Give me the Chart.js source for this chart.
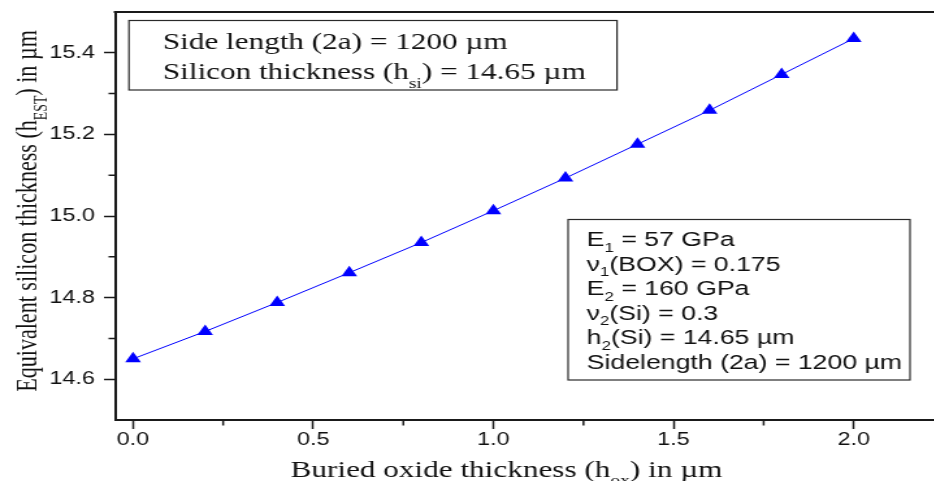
<!DOCTYPE html>
<html>
<head>
<meta charset="utf-8">
<script src="https://cdn.jsdelivr.net/npm/chart.js@4.4.1/dist/chart.umd.min.js"></script>
<style>
  html, body { margin: 0; padding: 0; background: #fff; overflow: hidden; width: 934px; height: 481px; }
  /* the figure is laid out narrow and stretched sideways */
  #wrap { width: 726px; height: 481px; transform: scale(1.3, 1); transform-origin: 0 0; }
</style>
</head>
<body>
<div id="wrap"><canvas id="chart" width="726" height="481"></canvas></div>
<script>
// buried oxide thickness (um) and the resulting equivalent silicon thickness (um)
const oxideThickness = [0, 0.2, 0.4, 0.6, 0.8, 1.0, 1.2, 1.4, 1.6, 1.8, 2.0];
const equivThickness = [14.65, 14.717, 14.788, 14.861, 14.935, 15.013, 15.093, 15.176, 15.259, 15.347, 15.435];

const xMajorTicks = [0, 0.5, 1.0, 1.5, 2.0];
const xMinorTicks = [0.25, 0.75, 1.25, 1.75];
const yMajorTicks = [14.6, 14.8, 15.0, 15.2, 15.4];
const yMinorTicks = [14.7, 14.9, 15.1, 15.3];

const axisColor = '#1a1a1a';
const textColor = '#111';
const serif = '"Liberation Serif", "Times New Roman", serif';
const sans = '"Liberation Sans", Arial, sans-serif';

// draw a line of text made of runs, some of them subscripted
function drawRuns(ctx, runs, x, y, size, family, align, subDrop) {
    const fontFor = r => `${r.sub ? Math.round(size * 0.62) : size}px ${family}`;
    const widths = runs.map(r => { ctx.font = fontFor(r); return ctx.measureText(r.t).width; });
    const total = widths.reduce((a, b) => a + b, 0);
    let cx = align === 'center' ? x - total / 2 : x;
    ctx.textAlign = 'left';
    ctx.textBaseline = 'alphabetic';
    runs.forEach((r, i) => {
        ctx.font = fontFor(r);
        ctx.fillText(r.t, cx, r.sub ? y + size * subDrop : y);
        cx += widths[i];
    });
}

// keep the plot area where the axes put it, without label overhang padding
function fixPadding(scale) {
    scale.paddingLeft = 0;
    scale.paddingRight = 0;
    scale.paddingTop = 0;
    scale.paddingBottom = 0;
}

// minor ticks, the top frame line, axis titles and the two note boxes
const decorations = {
    id: 'decorations',
    afterDraw(chart) {
        const { ctx, chartArea, scales: { x, y } } = chart;
        ctx.save();

        ctx.strokeStyle = axisColor;
        ctx.lineWidth = 1.5;
        ctx.beginPath();
        xMinorTicks.forEach(v => {
            const px = x.getPixelForValue(v);
            ctx.moveTo(px, chartArea.bottom);
            ctx.lineTo(px, chartArea.bottom + 5.5);
        });
        yMinorTicks.forEach(v => {
            const py = y.getPixelForValue(v);
            ctx.moveTo(chartArea.left, py);
            ctx.lineTo(chartArea.left - 5, py);
        });
        ctx.stroke();

        ctx.lineWidth = 2;
        ctx.beginPath();
        ctx.moveTo(chartArea.left - 1, chartArea.top);
        ctx.lineTo(chartArea.right, chartArea.top);
        ctx.stroke();

        ctx.fillStyle = textColor;

        // x axis title
        drawRuns(ctx, [
            { t: 'Buried oxide thickness (h' }, { t: 'ox', sub: true }, { t: ') in \u00b5m' }
        ], 389.6, 477, 24, serif, 'center', 0.34);

        // y axis title, a little condensed along its length
        ctx.save();
        ctx.translate(28, 211);
        ctx.rotate(-Math.PI / 2);
        ctx.scale(0.92, 1);
        drawRuns(ctx, [
            { t: 'Equivalent silicon thickness (h' }, { t: 'EST', sub: true }, { t: ') in \u00b5m' }
        ], 0, 0, 24, serif, 'center', 0.32);
        ctx.restore();

        // note boxes
        ctx.strokeStyle = '#2a2a2a';
        ctx.lineWidth = 1.2;
        ctx.fillStyle = '#fff';
        ctx.fillRect(99.2, 20.5, 375.4, 69.5);
        ctx.strokeRect(99.2, 20.5, 375.4, 69.5);
        ctx.fillRect(437, 219.5, 263, 160.5);
        ctx.strokeRect(437, 219.5, 263, 160.5);

        ctx.fillStyle = textColor;
        drawRuns(ctx, [{ t: 'Side length (2a) = 1200 \u00b5m' }], 125.2, 49.3, 24, serif, 'left', 0.36);
        drawRuns(ctx, [
            { t: 'Silicon thickness (h' }, { t: 'si', sub: true }, { t: ') = 14.65 \u00b5m' }
        ], 125.2, 79.3, 24, serif, 'left', 0.36);

        const notes = [
            [{ t: 'E' }, { t: '1', sub: true }, { t: ' = 57 GPa' }],
            [{ t: '\u03bd' }, { t: '1', sub: true }, { t: '(BOX) = 0.175' }],
            [{ t: 'E' }, { t: '2', sub: true }, { t: ' = 160 GPa' }],
            [{ t: '\u03bd' }, { t: '2', sub: true }, { t: '(Si) = 0.3' }],
            [{ t: 'h' }, { t: '2', sub: true }, { t: '(Si) = 14.65 \u00b5m' }],
            [{ t: 'Sidelength (2a) = 1200 \u00b5m' }]
        ];
        notes.forEach((runs, i) => {
            drawRuns(ctx, runs, 451.3, 246 + i * 24.5, 20.5, sans, 'left', 0.28);
        });

        ctx.restore();
    }
};

const ctx = document.getElementById('chart').getContext('2d');
const chart = new Chart(ctx, {
    type: 'line',
    data: {
        datasets: [{
            data: oxideThickness.map((v, i) => ({ x: v, y: equivThickness[i] })),
            borderColor: '#0000ff',
            borderWidth: 1,
            backgroundColor: '#0000ff',
            pointStyle: 'triangle',
            pointRadius: 7,
            pointBorderWidth: 0,
            pointBackgroundColor: '#0000ff',
            tension: 0
        }]
    },
    options: {
        responsive: false,
        animation: false,
        layout: { autoPadding: false, padding: { top: 12, right: 0, left: 0, bottom: 0 } },
        plugins: {
            legend: { display: false },
            tooltip: { enabled: false }
        },
        scales: {
            x: {
                type: 'linear',
                min: -0.05,
                max: 2.25,
                afterBuildTicks: scale => { scale.ticks = xMajorTicks.map(v => ({ value: v })); },
                afterFit: scale => { scale.height = 61; fixPadding(scale); },
                border: { display: true, color: axisColor, width: 2 },
                grid: { drawOnChartArea: false, drawTicks: true, tickLength: 9, tickWidth: 1.5, tickColor: axisColor },
                ticks: {
                    padding: 0,
                    color: textColor,
                    font: { family: sans, size: 18 },
                    maxRotation: 0,
                    callback: v => v.toFixed(1)
                }
            },
            y: {
                min: 14.5,
                max: 15.5,
                afterBuildTicks: scale => { scale.ticks = yMajorTicks.map(v => ({ value: v })); },
                afterFit: scale => { scale.width = 88.5; fixPadding(scale); },
                border: { display: true, color: axisColor, width: 2 },
                grid: { drawOnChartArea: false, drawTicks: true, tickLength: 8.5, tickWidth: 1.5, tickColor: axisColor },
                ticks: {
                    padding: 7,
                    color: textColor,
                    font: { family: sans, size: 18 },
                    callback: v => v.toFixed(1)
                }
            }
        }
    },
    plugins: [decorations]
});
</script>
</body>
</html>
